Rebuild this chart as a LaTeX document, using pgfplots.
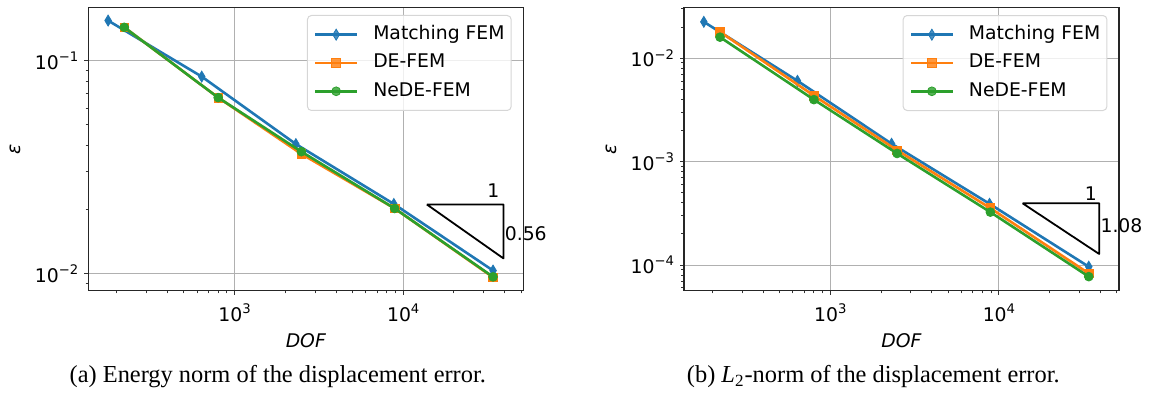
\documentclass[border=0pt]{standalone}
\usepackage{fontspec}
\setmainfont{Liberation Serif}
\newfontfamily\dejavu{DejaVu Sans}
\usepackage{pgfplots}
\pgfplotsset{compat=1.18}
\definecolor{mplblue}{HTML}{1F77B4}
\definecolor{mplorange}{HTML}{FF7F0E}
\definecolor{mplgreen}{HTML}{2CA02C}
\definecolor{gridgray}{HTML}{B0B0B0}
\definecolor{legedge}{HTML}{D6D6D6}
\newcommand{\tf}{\dejavu\fontsize{9.4}{11.3}\selectfont}
\newcommand{\pw}[1]{10\raisebox{0.42em}{\fontsize{6.6}{7}\selectfont #1}}
\tikzset{
  sM/.style={mplblue, line width=1.3pt, mark=diamond*, mark size=2.75pt, mark options={solid, line width=0.4pt, xscale=0.8}},
  sD/.style={mplorange, line width=1.3pt, mark=square*, mark size=2.15pt, mark options={solid, line width=0.4pt}},
  sN/.style={mplgreen, line width=1.3pt, mark=*, mark size=2.2pt, mark options={solid, line width=0.4pt}},
  tri/.style={black, line width=0.9pt, line join=round},
}
\begin{document}
\begin{tikzpicture}
\useasboundingbox (0,0) rectangle (576.5pt,197pt);
\begin{axis}[xmode=log, ymode=log, clip mode=individual,
    scale only axis, width=217.5pt, height=141.7pt,
    xmin=135.8, xmax=51520,
    tick align=outside, tick pos=left,
    major tick length=2pt, minor tick length=1.3pt,
    tick style={black!80, line width=0.5pt},
    axis line style={black!85, line width=0.6pt},
    grid=major, major grid style={gridgray, line width=0.5pt},
    xtick={1000,10000}, xticklabels={\pw{3},\pw{4}},
    minor xtick={200,300,400,500,600,700,800,900,2000,3000,4000,5000,6000,7000,8000,9000,20000,30000,40000,50000},
    ticklabel style={font=\tf},
    xticklabel style={anchor=base, yshift=-13.3pt},
    yticklabel style={anchor=east, inner sep=0pt, xshift=-2.8pt},
    xlabel={\itshape DOF},
    xlabel style={font=\tf, at={(axis description cs:0.5,0)}, anchor=center, yshift=-25pt},
    ylabel={\itshape ε},
    ylabel style={font=\tf, at={(axis description cs:-0.1683,0.5)}, anchor=center},
    legend style={at={(1,1)}, anchor=north east, xshift=-5.8pt, yshift=-3.85pt,
      draw=legedge, line width=0.5pt, rounded corners=2pt, fill=white, fill opacity=0.8, text opacity=1,
      font=\tf, inner xsep=3.3pt, inner ysep=4.85pt, row sep=4.65pt, column sep=7.5pt,
      nodes={inner sep=0pt, text height=7.2pt, text depth=2.3pt},
      cells={anchor=west}},
    legend cell align=left,
    legend image code/.code={\draw[mark repeat=2,mark phase=2] plot coordinates {(0pt,0pt) (10.4pt,0pt) (20.8pt,0pt)};},
  at={(44.15pt,51.65pt)}, anchor=south west,
  ymin=0.00828, ymax=0.179,
  ytick={0.01,0.1}, yticklabels={\pw{−2},\pw{−1}},
  minor ytick={0.009,0.02,0.03,0.04,0.05,0.06,0.07,0.08,0.09}]
\addplot[sM] coordinates {(178,0.155) (639,0.0844) (2310,0.0406) (8800,0.0212) (34100,0.0103)};
\addlegendentry{Matching FEM}
\addplot[sD] coordinates {(222,0.144) (800,0.0672) (2490,0.0365) (8900,0.0202) (34100,0.00957)};
\addlegendentry{DE-FEM}
\addplot[sN] coordinates {(222,0.144) (800,0.0672) (2490,0.0374) (8900,0.0202) (34100,0.00962)};
\addlegendentry{NeDE-FEM}
\addplot[tri, forget plot] coordinates {(13800,0.0211) (39300,0.0211) (39300,0.01175) (13800,0.0211)};
\node[font=\tf] at (axis cs:34280,0.0246) {1};
\node[font=\tf, anchor=west, inner sep=0.5pt] at (axis cs:39300,0.01542) {0.56};
\end{axis}
\begin{axis}[xmode=log, ymode=log, clip mode=individual,
    scale only axis, width=217.5pt, height=141.7pt,
    xmin=135.8, xmax=51520,
    tick align=outside, tick pos=left,
    major tick length=2pt, minor tick length=1.3pt,
    tick style={black!80, line width=0.5pt},
    axis line style={black!85, line width=0.6pt},
    grid=major, major grid style={gridgray, line width=0.5pt},
    xtick={1000,10000}, xticklabels={\pw{3},\pw{4}},
    minor xtick={200,300,400,500,600,700,800,900,2000,3000,4000,5000,6000,7000,8000,9000,20000,30000,40000,50000},
    ticklabel style={font=\tf},
    xticklabel style={anchor=base, yshift=-13.3pt},
    yticklabel style={anchor=east, inner sep=0pt, xshift=-2.8pt},
    xlabel={\itshape DOF},
    xlabel style={font=\tf, at={(axis description cs:0.5,0)}, anchor=center, yshift=-25pt},
    ylabel={\itshape ε},
    ylabel style={font=\tf, at={(axis description cs:-0.1662,0.5)}, anchor=center},
    legend style={at={(1,1)}, anchor=north east, xshift=-5.8pt, yshift=-3.85pt,
      draw=legedge, line width=0.5pt, rounded corners=2pt, fill=white, fill opacity=0.8, text opacity=1,
      font=\tf, inner xsep=3.3pt, inner ysep=4.85pt, row sep=4.65pt, column sep=7.5pt,
      nodes={inner sep=0pt, text height=7.2pt, text depth=2.3pt},
      cells={anchor=west}},
    legend cell align=left,
    legend image code/.code={\draw[mark repeat=2,mark phase=2] plot coordinates {(0pt,0pt) (10.4pt,0pt) (20.8pt,0pt)};},
  at={(342pt,51.65pt)}, anchor=south west,
  ymin=5.65e-5, ymax=0.0311,
  ytick={1e-4,1e-3,1e-2}, yticklabels={\pw{−4},\pw{−3},\pw{−2}},
  minor ytick={6e-5,7e-5,8e-5,9e-5,2e-4,3e-4,4e-4,5e-4,6e-4,7e-4,8e-4,9e-4,2e-3,3e-3,4e-3,5e-3,6e-3,7e-3,8e-3,9e-3,0.02,0.03}]
\addplot[sM] coordinates {(178,0.0225) (639,0.00605) (2310,0.00149) (8800,0.000391) (34100,9.64e-5)};
\addlegendentry{Matching FEM}
\addplot[sD] coordinates {(222,0.0180) (800,0.00435) (2490,0.00129) (8900,0.000355) (34100,8.3e-5)};
\addlegendentry{DE-FEM}
\addplot[sN] coordinates {(222,0.0160) (800,0.00398) (2490,0.00120) (8900,0.000325) (34100,7.73e-5)};
\addlegendentry{NeDE-FEM}
\addplot[tri, forget plot] coordinates {(13800,3.96e-4) (39300,3.96e-4) (39300,1.28e-4) (13800,3.96e-4)};
\node[font=\tf] at (axis cs:35080,4.94e-4) {1};
\node[font=\tf, anchor=west, inner sep=0.5pt] at (axis cs:39300,2.39e-4) {1.08};
\end{axis}
\node[font=\fontsize{12.2}{14}\selectfont] at (138.9pt,8.5pt) {(a) Energy norm of the displacement error.};
\node[font=\fontsize{12.2}{14}\selectfont] at (436.65pt,8.5pt) {(b) \textit{L}\textsubscript{2}-norm of the displacement error.};
\end{tikzpicture}
\end{document}
